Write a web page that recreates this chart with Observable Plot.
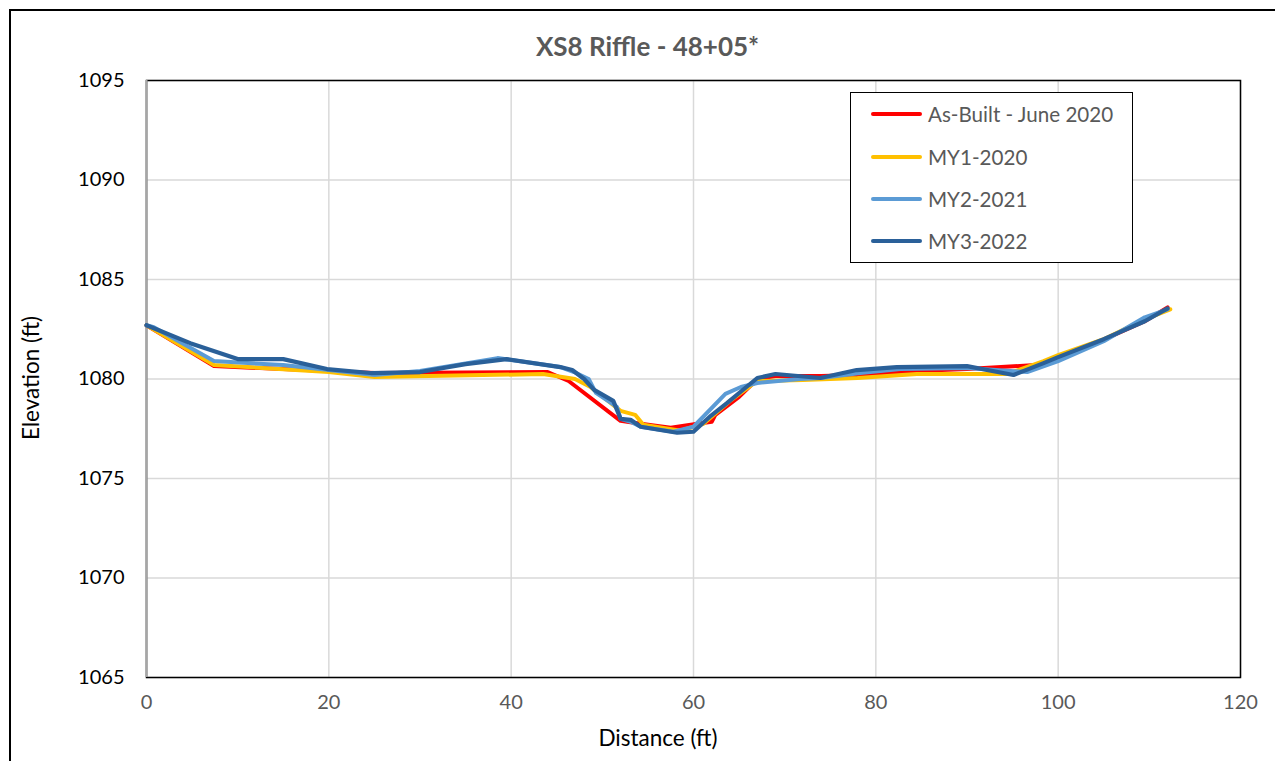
<!DOCTYPE html>
<html>
<head>
<meta charset="utf-8">
<script src="https://cdn.jsdelivr.net/npm/d3@7"></script>
<script src="https://cdn.jsdelivr.net/npm/@observablehq/plot@0.6"></script>
<style>
  html, body { margin: 0; padding: 0; background: #fff; }
  #wrap { position: relative; width: 1275px; height: 761px; overflow: hidden; font-family: Lato, "Open Sans", sans-serif; }
  #border { position: absolute; left: 9px; top: 9px; width: 1300px; height: 800px; border-left: 2px solid #000; border-top: 2px solid #000; pointer-events: none; }
  .title { position: absolute; left: 0; width: 1295px; top: 46px; transform: translateY(-50%); text-align: center; font-weight: bold; font-size: 26px; color: #595959; }
  .ylab { position: absolute; left: 30px; top: 378px; transform: translate(-50%, -50%) rotate(-90deg); font-size: 22.5px; color: #000; white-space: nowrap; }
  .xlab { position: absolute; left: 658px; top: 737px; transform: translate(-50%, -50%); font-size: 22.5px; color: #000; white-space: nowrap; }
  #legend { position: absolute; left: 850px; top: 92px; width: 283px; height: 171px; border: 1.5px solid #000; background: #fff; box-sizing: border-box; }
  .item { position: absolute; left: 20px; height: 24px; display: flex; align-items: center; font-size: 20.6px; color: #595959; white-space: nowrap; }
  .swatch { width: 51px; height: 4px; border-radius: 2px; margin-right: 6px; }
</style>
</head>
<body>
<div id="wrap">
  <div id="chart"></div>
  <div id="border"></div>
  <div class="title">XS8 Riffle - 48+05*</div>
  <div class="ylab">Elevation (ft)</div>
  <div class="xlab">Distance (ft)</div>
  <div id="legend"></div>
</div>
<script>
// ---- Data (distance ft, elevation ft) ----
const seriesNames = ["As-Built - June 2020", "MY1-2020", "MY2-2021", "MY3-2022"];
const seriesColors = ["#FF0000", "#FFC000", "#5B9BD5", "#2A6099"];
const seriesWidths = [4, 4, 4, 4.2];

const asBuiltX = [0, 7.4, 20, 25, 44, 46.3, 52, 54.2, 57.5, 59.7, 62, 62.4, 65, 67, 69, 74, 78, 84.5, 90, 97.5, 100, 104.6, 109.5, 112];
const asBuiltY = [1082.7, 1080.65, 1080.4, 1080.3, 1080.35, 1079.9, 1077.9, 1077.75, 1077.55, 1077.7, 1077.85, 1078.2, 1079.1, 1080.0, 1080.15, 1080.15, 1080.2, 1080.4, 1080.5, 1080.7, 1081.1, 1081.9, 1082.9, 1083.6];

const my1X = [0, 7.4, 20, 25, 43.5, 47, 48.7, 52, 53.6, 54.5, 58.6, 61.1, 64, 67, 72, 78, 84.5, 94.4, 98.4, 100, 105, 109.5, 112.3];
const my1Y = [1082.7, 1080.7, 1080.35, 1080.1, 1080.25, 1080.0, 1079.6, 1078.4, 1078.2, 1077.7, 1077.4, 1077.75, 1078.9, 1079.9, 1079.95, 1080.05, 1080.25, 1080.25, 1080.9, 1081.2, 1082.0, 1083.0, 1083.5];

const my2X = [0, 0.8, 7.4, 15, 20, 25, 30, 38.5, 45.4, 46.9, 48.5, 49.3, 51.6, 52, 53.1, 54.2, 57.8, 60, 63.5, 65.2, 67, 71.7, 74, 78.3, 82.7, 90, 96.6, 100, 105, 109.5, 112];
const my2Y = [1082.7, 1082.6, 1080.9, 1080.7, 1080.45, 1080.2, 1080.4, 1081.05, 1080.6, 1080.35, 1080.0, 1079.3, 1078.6, 1078.0, 1077.85, 1077.6, 1077.35, 1077.6, 1079.25, 1079.6, 1079.8, 1080.0, 1080.05, 1080.3, 1080.5, 1080.55, 1080.35, 1080.9, 1081.9, 1083.1, 1083.5];

const my3X = [0, 4.8, 10, 15, 19.8, 24.6, 30, 35, 39.5, 45.4, 46.7, 48, 49.1, 51.2, 52, 53.1, 54.2, 58.2, 60, 61.9, 63.7, 67, 69, 73.9, 77.9, 82.3, 90, 95.1, 98.4, 100, 105, 109.5, 112];
const my3Y = [1082.7, 1081.8, 1081.0, 1081.0, 1080.5, 1080.3, 1080.35, 1080.75, 1081.0, 1080.6, 1080.45, 1080.0, 1079.45, 1078.9, 1078.0, 1077.95, 1077.6, 1077.3, 1077.35, 1078.15, 1078.8, 1080.05, 1080.25, 1080.05, 1080.45, 1080.6, 1080.65, 1080.2, 1080.8, 1081.1, 1082.0, 1082.9, 1083.55];

const xTicks = [0, 20, 40, 60, 80, 100, 120];
const yTicks = [1065, 1070, 1075, 1080, 1085, 1090, 1095];

const allX = [asBuiltX, my1X, my2X, my3X];
const allY = [asBuiltY, my1Y, my2Y, my3Y];
const rows = allX.map((xs, i) => xs.map((x, j) => ({series: seriesNames[i], x, y: allY[i][j]})));

const plot = Plot.plot({
  width: 1275,
  height: 761,
  marginLeft: 146,
  marginRight: 35,
  marginTop: 80,
  marginBottom: 84,
  style: {fontFamily: "Lato, 'Open Sans', sans-serif", background: "#fff"},
  x: {domain: [0, 120], ticks: xTicks},
  y: {domain: [1065, 1095], ticks: yTicks},
  marks: [
    Plot.gridX(xTicks, {stroke: "#d9d9d9", strokeOpacity: 1, strokeWidth: 1.5}),
    Plot.gridY(yTicks, {stroke: "#d9d9d9", strokeOpacity: 1, strokeWidth: 1.5}),
    Plot.frame({stroke: "#000", strokeWidth: 1.5}),
    Plot.ruleX([0], {stroke: "#a6a6a6", strokeWidth: 2}),
    Plot.axisX({ticks: xTicks, tickSize: 0, tickPadding: 17, fontSize: 20, color: "#595959", label: null, tickFormat: d => String(d)}),
    Plot.axisY({ticks: yTicks, tickSize: 0, tickPadding: 22, fontSize: 20, color: "#000", label: null, tickFormat: d => String(d)}),
    ...rows.map((r, i) => Plot.line(r, {x: "x", y: "y", stroke: seriesColors[i], strokeWidth: seriesWidths[i], strokeLinejoin: "round", strokeLinecap: "round"}))
  ]
});
document.getElementById("chart").appendChild(plot);

// Legend
const legend = document.getElementById("legend");
const rowTops = [9, 52, 94, 136];
seriesNames.forEach((name, i) => {
  const d = document.createElement("div");
  d.className = "item";
  d.style.top = rowTops[i] + "px";
  const sw = document.createElement("div");
  sw.className = "swatch";
  sw.style.background = seriesColors[i];
  const tx = document.createElement("span");
  tx.textContent = name;
  d.appendChild(sw); d.appendChild(tx);
  legend.appendChild(d);
});
</script>
</body>
</html>
